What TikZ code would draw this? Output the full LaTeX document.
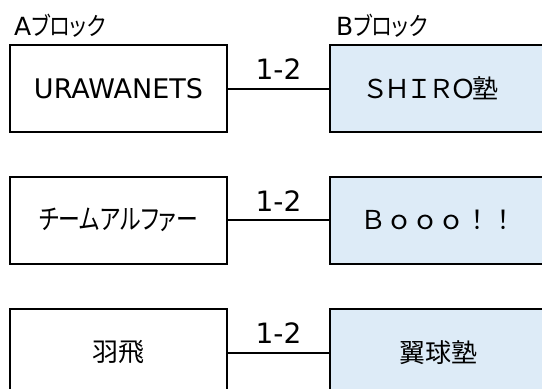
\documentclass[tikz,border=0pt]{standalone}
\usepackage{fontspec}
\setmainfont{DejaVu Sans}
\newfontfamily\jpfont{Noto Sans CJK JP}
\newfontfamily\jppfont[RawFeature=+palt, FakeStretch=0.84]{Noto Sans CJK JP}
\newfontfamily\jpnarrow[RawFeature=+palt, FakeStretch=0.78]{Noto Sans CJK JP}
\usetikzlibrary{positioning}
\definecolor{blockblue}{HTML}{DDEBF7}
\tikzset{
	bracket/.cd,
	team/.style = {
		draw,
		line width = 2pt,
		outer sep = 0pt,
		minimum width = 217pt,
		minimum height = 87pt,
		font = \fontsize{26}{30}\selectfont
	},
	link/.style = {
		line width = 2pt
	},
}

\begin{document}
\begin{tikzpicture}[
		x = 1pt,
		y = -1pt,
		blocklabel/.style = {
			inner sep = 0pt,
			font = \fontsize{25}{28}\selectfont
		},
		score/.style = {
			inner sep = 0pt,
			font = \fontsize{28}{32}\selectfont
		}]
		\def\xleft{118.5}
		\def\gap{103pt}
		\useasboundingbox (0, 0) rectangle (542, 389);
		\clip (0, 0) rectangle (542, 389);
		\foreach \row/\ya/\teama/\teamb in {
				1/88.5/{\fontsize{27}{30}\selectfont URAWANETS}/{\jpfont Ｓ\kern-4pt Ｈ\kern-4pt Ｉ\kern-4pt Ｒ\kern-4pt Ｏ\kern-4pt 塾\kern16pt},
				2/220/{\fontsize{28}{32}\selectfont\jpnarrow チームアルファー}/{\jpfont Ｂｏｏｏ！！},
				3/352.5/{\jpfont 羽飛}/{\jpfont 翼球塾}}{
			\node[bracket/team] (A-\row) at (\xleft, \ya) {\teama};
			\node[bracket/team, fill = blockblue, right = \gap of A-\row] (B-\row) {\teamb};
			\draw[bracket/link] (A-\row) -- node[score, above = 8pt] {1-2} (B-\row);
		}
		\node[blocklabel, above right = 7pt and 4pt of A-1.north west, anchor = south west] (A-label) {A\jppfont ブロック};
		\node[blocklabel, above right = 7pt and 6pt of B-1.north west, anchor = south west] (B-label) {B\jppfont ブロック};
	\end{tikzpicture}
\end{document}
